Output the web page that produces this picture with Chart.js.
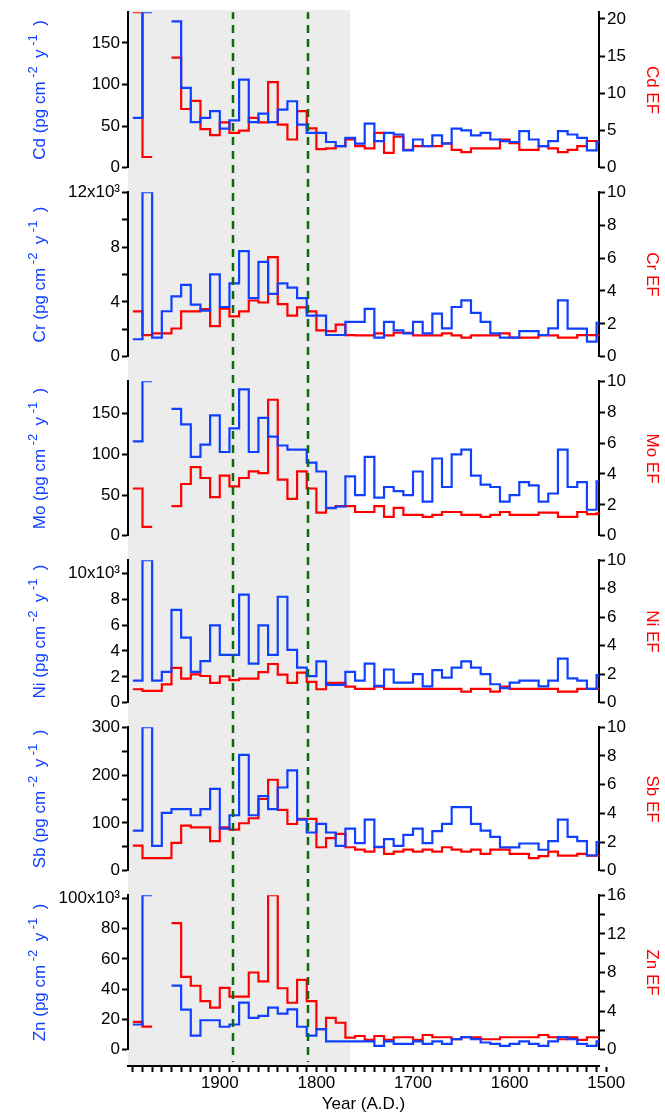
<!DOCTYPE html>
<html>
<head>
<meta charset="utf-8">
<script src="https://cdn.jsdelivr.net/npm/chart.js@4.4.0/dist/chart.umd.min.js"></script>
<style>
  html, body { margin: 0; padding: 0; background: #fff; }
  #wrap { position: relative; width: 665px; height: 1115px; }
  #wrap canvas { position: absolute; left: 0; }
</style>
</head>
<body>
<div id="wrap"></div>
<script>
// ---- data: one value per decade, decade bins running back from 1990 ----
const DECADES = [1990, 1980, 1970, 1960, 1950, 1940, 1930, 1920, 1910, 1900,
                 1890, 1880, 1870, 1860, 1850, 1840, 1830, 1820, 1810, 1800,
                 1790, 1780, 1770, 1760, 1750, 1740, 1730, 1720, 1710, 1700,
                 1690, 1680, 1670, 1660, 1650, 1640, 1630, 1620, 1610, 1600,
                 1590, 1580, 1570, 1560, 1550, 1540, 1530, 1520, 1510];
const BIN_YEARS = 10;

const CD_FLUX = [60, 187, null, null, 176, 96, 55, 60, 68, 47,
                 57, 106, 55, 65, 55, 70, 80, 52, 42, 42,
                 31, 26, 36, 29, 53, 32, 42, 40, 21, 34,
                 26, 39, 29, 47, 45, 39, 42, 34, 32, 31,
                 44, 34, 26, 32, 44, 40, 36, 21, 31];
const CD_EF = [20.9, 1.45, null, null, 14.8, 7.9, 9.0, 5.2, 4.4, 6.1,
               4.7, 5.0, 6.7, 6.1, 11.5, 5.8, 3.8, 7.6, 5.3, 2.5,
               2.6, 2.9, 3.8, 2.9, 2.6, 4.7, 2.0, 4.2, 2.4, 2.9,
               2.9, 2.9, 3.3, 2.4, 2.1, 2.6, 2.6, 2.6, 3.8, 3.3,
               2.4, 2.4, 2.9, 2.6, 2.1, 2.4, 2.9, 3.6, 3.5];

const CR_FLUX = [1280, 12000, 1400, 3320, 4400, 5240, 3800, 3370, 6010, 3630,
                 5360, 7710, 4280, 6920, 4590, 5360, 5050, 4280, 3000, 3000,
                 1590, 1590, 2550, 2550, 3490, 1400, 2550, 1920, 1710, 2550,
                 1710, 3150, 2070, 3630, 4110, 3200, 2550, 1710, 1400, 1400,
                 1870, 1870, 1590, 2070, 4110, 2050, 2050, 1110, 2480];
const CR_EF = [2.76, 1.32, 1.42, 1.42, 1.72, 2.76, 2.76, 2.90, 1.86, 2.92,
               2.46, 2.76, 3.42, 3.30, 6.06, 3.20, 2.50, 3.00, 2.76, 1.60,
               1.56, 1.96, 1.32, 1.30, 1.30, 1.42, 1.30, 1.46, 1.46, 1.30,
               1.30, 1.30, 1.42, 1.30, 1.16, 1.30, 1.30, 1.30, 1.42, 1.16,
               1.16, 1.16, 1.30, 1.30, 1.16, 1.16, 1.32, 1.32, 1.32];

const MO_FLUX = [116, 190, null, null, 156, 137, 97, 112, 148, 103,
                 132, 180, 103, 145, 122, 111, 106, 106, 90, 79,
                 34, 36, 73, 50, 97, 47, 60, 55, 50, 79,
                 42, 95, 60, 100, 106, 74, 63, 60, 42, 50,
                 66, 62, 42, 52, 106, 60, 66, 32, 67];
const MO_EF = [3.06, 0.58, null, null, 1.92, 3.35, 4.44, 3.74, 2.50, 3.89,
               3.20, 3.74, 4.17, 4.06, 8.80, 3.63, 2.39, 4.17, 3.06, 1.50,
               1.81, 1.92, 1.92, 1.54, 1.54, 1.92, 1.22, 1.81, 1.35, 1.35,
               1.22, 1.35, 1.54, 1.54, 1.35, 1.35, 1.22, 1.35, 1.54, 1.35,
               1.35, 1.35, 1.50, 1.50, 1.22, 1.22, 1.54, 1.40, 1.45];

const NI_FLUX = [1710, 11000, 1710, 2390, 7170, 5030, 2390, 3220, 5980, 3700,
                 3700, 8350, 3020, 5980, 3700, 8180, 4080, 2720, 2060, 3190,
                 1380, 1380, 2390, 1710, 3020, 1310, 2570, 1560, 1560, 2210,
                 1260, 2520, 1940, 2720, 3190, 2720, 2210, 1430, 1130, 1560,
                 1710, 1710, 1260, 1710, 3400, 1890, 1710, 1080, 2140];
const NI_EF = [0.95, 0.84, 0.84, 1.29, 2.45, 1.70, 2.00, 1.88, 1.40, 1.86,
               1.59, 1.70, 1.70, 2.15, 2.72, 1.97, 1.40, 2.11, 1.47, 0.95,
               1.40, 1.40, 1.13, 0.97, 0.97, 1.13, 0.97, 0.97, 0.97, 0.97,
               0.97, 0.97, 0.97, 0.97, 0.79, 0.97, 0.97, 0.79, 1.13, 0.97,
               0.97, 0.97, 0.97, 0.97, 0.79, 0.79, 0.97, 0.97, 0.97];

const SB_FLUX = [84, 300, 52, 121, 129, 129, 116, 129, 171, 88,
                 116, 242, 116, 156, 129, 174, 210, 107, 80, 98,
                 80, 52, 88, 58, 107, 50, 66, 52, 75, 88,
                 58, 83, 98, 133, 133, 98, 84, 71, 49, 49,
                 57, 57, 44, 62, 107, 71, 62, 32, 60];
const SB_EF = [1.76, 0.88, 0.88, 0.88, 1.94, 3.15, 3.03, 3.03, 2.06, 3.03,
               2.87, 3.31, 3.66, 5.00, 6.34, 4.24, 3.26, 3.61, 3.61, 1.64,
               2.27, 2.57, 1.64, 1.48, 1.34, 1.64, 1.18, 1.34, 1.48, 1.34,
               1.48, 1.34, 1.64, 1.48, 1.34, 1.48, 1.18, 1.48, 1.48, 1.18,
               1.18, 0.88, 1.02, 1.34, 1.06, 1.06, 1.18, 1.06, 1.06];

const ZN_FLUX = [16700, 102000, null, null, 42300, 26500, 9400, 19500, 19500, 15200,
                 16700, 31100, 21100, 22400, 27800, 23900, 26700, 15200, 9400, 13700,
                 5500, 5500, 5500, 5500, 5500, 2600, 5500, 3900, 3900, 5500,
                 3900, 5500, 3900, 7000, 8300, 7000, 4800, 3900, 2600, 3900,
                 5500, 3900, 2600, 5500, 8300, 7000, 3900, 2600, 5500];
const ZN_EF = [2.90, 2.39, null, null, 13.1, 7.55, 6.63, 5.04, 4.36, 6.40,
               5.51, 5.51, 8.00, 7.08, 16.0, 6.37, 4.87, 7.24, 5.04, 2.14,
               3.31, 2.80, 1.27, 1.43, 1.02, 1.43, 1.02, 1.30, 1.30, 1.02,
               1.53, 1.30, 1.30, 1.09, 1.30, 1.30, 1.09, 1.09, 1.30, 1.30,
               1.30, 1.30, 1.53, 1.30, 1.09, 1.30, 1.02, 1.30, 1.30];

// ---- axes: ranges and tick labels ----
const YEAR_RANGE = [1507.5, 1995];
const YEAR_TICKS_LABELED = [1900, 1800, 1700, 1600, 1500];
const SHADED_UNTIL = 1765;           // grey band: present back to this year
const EVENT_YEARS = [1886, 1809];    // dashed green markers

const CD_FLUX_TICKS = [0, 50, 100, 150];
const CD_FLUX_LABELS = ['0', '50', '100', '150'];
const CD_EF_TICKS = [0, 5, 10, 15, 20];
const CD_EF_LABELS = ['0', '5', '10', '15', '20'];
const CR_FLUX_TICKS = [0, 2000, 4000, 6000, 8000, 10000, 12000];
const CR_FLUX_LABELS = ['0', '', '4', '', '8', '', '12x10³'];
const MO_FLUX_TICKS = [0, 50, 100, 150];
const MO_FLUX_LABELS = ['0', '50', '100', '150'];
const NI_FLUX_TICKS = [0, 2000, 4000, 6000, 8000, 10000];
const NI_FLUX_LABELS = ['0', '2', '4', '6', '8', '10x10³'];
const SB_FLUX_TICKS = [0, 50, 100, 150, 200, 250, 300];
const SB_FLUX_LABELS = ['0', '', '100', '', '200', '', '300'];
const ZN_FLUX_TICKS = [0, 20000, 40000, 60000, 80000, 100000];
const ZN_FLUX_LABELS = ['0', '20', '40', '60', '80', '100x10³'];
const EF10_TICKS = [0, 2, 4, 6, 8, 10];
const EF10_LABELS = ['0', '2', '4', '6', '8', '10'];
const ZN_EF_TICKS = [0, 2, 4, 6, 8, 10, 12, 14, 16];
const ZN_EF_LABELS = ['0', '', '4', '', '8', '', '12', '', '16'];

// ---- style ----
const BLUE = '#1040ff';
const RED = '#ff0000';
const GREEN = '#0b6a0b';
const GREY = '#ececec';
const FAMILY = "'Liberation Sans', Arial, Helvetica, sans-serif";
const FONT = { family: FAMILY, size: 17 };
const SUP_SIZE = 13;
const W = 665;
const LEFT_W = 128, RIGHT_W = 66;
const FLUX_TITLE_X = 40;
const DASH_TOP = 11;

Chart.defaults.font.family = FAMILY;
Chart.defaults.color = '#000';

const PANELS = [
  { el: 'Cd', flux: CD_FLUX, ef: CD_EF, fluxMax: 187, efMax: 20.9,
    fT: CD_FLUX_TICKS, fL: CD_FLUX_LABELS, eT: CD_EF_TICKS, eL: CD_EF_LABELS,
    top: 0, bottom: 180, areaTop: 11, areaBottom: 170 },
  { el: 'Cr', flux: CR_FLUX, ef: CR_EF, fluxMax: 12000, efMax: 10,
    fT: CR_FLUX_TICKS, fL: CR_FLUX_LABELS, eT: EF10_TICKS, eL: EF10_LABELS,
    top: 180, bottom: 369, areaTop: 191, areaBottom: 358 },
  { el: 'Mo', flux: MO_FLUX, ef: MO_EF, fluxMax: 190, efMax: 10,
    fT: MO_FLUX_TICKS, fL: MO_FLUX_LABELS, eT: EF10_TICKS, eL: EF10_LABELS,
    top: 369, bottom: 548, areaTop: 380, areaBottom: 537 },
  { el: 'Ni', flux: NI_FLUX, ef: NI_EF, fluxMax: 11000, efMax: 10,
    fT: NI_FLUX_TICKS, fL: NI_FLUX_LABELS, eT: EF10_TICKS, eL: EF10_LABELS,
    top: 548, bottom: 715, areaTop: 559, areaBottom: 705 },
  { el: 'Sb', flux: SB_FLUX, ef: SB_EF, fluxMax: 300, efMax: 10,
    fT: SB_FLUX_TICKS, fL: SB_FLUX_LABELS, eT: EF10_TICKS, eL: EF10_LABELS,
    top: 715, bottom: 883, areaTop: 726, areaBottom: 872 },
  { el: 'Zn', flux: ZN_FLUX, ef: ZN_EF, fluxMax: 102000, efMax: 16,
    fT: ZN_FLUX_TICKS, fL: ZN_FLUX_LABELS, eT: ZN_EF_TICKS, eL: ZN_EF_LABELS,
    top: 883, bottom: 1062, areaTop: 895, areaBottom: 1052 },
];
const AXIS_BOX = { top: 1062, bottom: 1115, lineY: 1066 };

/** decade values -> step outline: flat across each bin, vertical at bin edges */
function stepPoints(values) {
  const pts = [];
  values.forEach((v, i) => {
    const start = DECADES[i];
    if (v === null) { pts.push({ x: start, y: null }); return; }
    pts.push({ x: start, y: v }, { x: start - BIN_YEARS, y: v });
  });
  return pts;
}

/** grey band + dashed event lines, drawn per canvas so they run continuously */
const decorPlugin = {
  id: 'decor',
  beforeDraw(chart, args, o) {
    const { ctx, chartArea, scales: { x } } = chart;
    const x0 = x.getPixelForValue(YEAR_RANGE[1]);
    const x1 = x.getPixelForValue(SHADED_UNTIL);
    const y0 = o.fromArea ? chartArea.top - 2 : 0;
    const y1 = o.toArea ? chartArea.bottom : chart.height;
    ctx.save();
    ctx.fillStyle = GREY;
    ctx.fillRect(x0, y0, x1 - x0, y1 - y0);
    ctx.restore();
  },
  afterDatasetsDraw(chart, args, o) {
    const { ctx, chartArea, scales: { x } } = chart;
    const y0 = o.fromArea ? chartArea.top : 0;
    const y1 = o.toArea ? chartArea.bottom - 4 : chart.height;
    ctx.save();
    ctx.strokeStyle = GREEN;
    ctx.lineWidth = 2.5;
    ctx.setLineDash([8, 6]);
    ctx.lineDashOffset = o.absTop + y0 - DASH_TOP;
    EVENT_YEARS.forEach(yr => {
      const px = Math.round(x.getPixelForValue(yr));
      ctx.beginPath();
      ctx.moveTo(px, y0);
      ctx.lineTo(px, y1);
      ctx.stroke();
    });
    ctx.restore();
  }
};

/** left axis title with raised exponents: "Cd (pg cm-2 y-1)" */
const fluxTitlePlugin = {
  id: 'fluxTitle',
  afterDraw(chart, args, o) {
    const { ctx, chartArea } = chart;
    const parts = [
      { t: o.el + ' (pg cm', sup: false },
      { t: ' -2 ', sup: true },
      { t: ' y', sup: false },
      { t: ' -1 ', sup: true },
      { t: ' )', sup: false },
    ];
    const fontOf = p => (p.sup ? SUP_SIZE : FONT.size) + 'px ' + FAMILY;
    ctx.save();
    let total = 0;
    parts.forEach(p => { ctx.font = fontOf(p); p.w = ctx.measureText(p.t).width; total += p.w; });
    ctx.translate(FLUX_TITLE_X, (chartArea.top + chartArea.bottom) / 2);
    ctx.rotate(-Math.PI / 2);
    ctx.fillStyle = BLUE;
    ctx.textBaseline = 'middle';
    ctx.textAlign = 'left';
    let cx = -total / 2;
    parts.forEach(p => {
      ctx.font = fontOf(p);
      ctx.fillText(p.t, cx, p.sup ? -7 : 0);
      cx += p.w;
    });
    ctx.restore();
  }
};

function makeCanvas(top, height) {
  const c = document.createElement('canvas');
  c.width = W; c.height = height;
  c.style.top = top + 'px';
  c.style.width = W + 'px'; c.style.height = height + 'px';
  document.getElementById('wrap').appendChild(c);
  return c;
}

function yearScale(show) {
  return { type: 'linear', min: YEAR_RANGE[0], max: YEAR_RANGE[1], reverse: true, display: show };
}

function valueAxis(side, max, ticks, labels, title, color) {
  return {
    type: 'linear', position: side, min: 0, max: max,
    afterFit: s => { s.width = side === 'left' ? LEFT_W : RIGHT_W; },
    afterBuildTicks: s => { s.ticks = ticks.map(v => ({ value: v })); },
    grid: { drawOnChartArea: false, tickLength: 6, tickWidth: 2, tickColor: '#000' },
    border: { color: '#000', width: 2 },
    ticks: {
      color: '#000', font: FONT, padding: 2, autoSkip: false,
      callback: v => labels[ticks.indexOf(v)] ?? ''
    },
    title: { display: !!title, text: title || '', color: color, font: FONT, padding: { top: 3, bottom: 0 } }
  };
}

PANELS.forEach((p, i) => {
  const canvas = makeCanvas(p.top, p.bottom - p.top);
  new Chart(canvas, {
    type: 'line',
    data: {
      datasets: [
        { data: stepPoints(p.flux), yAxisID: 'yL', borderColor: BLUE, borderWidth: 2.2 },
        { data: stepPoints(p.ef), yAxisID: 'yR', borderColor: RED, borderWidth: 2.2 },
      ]
    },
    options: {
      responsive: false, animation: false, events: [], devicePixelRatio: 1,
      elements: { point: { radius: 0 }, line: { tension: 0, fill: false } },
      layout: { padding: { top: p.areaTop - p.top, bottom: p.bottom - p.areaBottom, left: 0, right: 0 } },
      plugins: {
        legend: { display: false }, tooltip: { enabled: false },
        decor: { absTop: p.top, fromArea: i === 0, toArea: false },
        fluxTitle: { el: p.el }
      },
      scales: {
        x: yearScale(false),
        yL: valueAxis('left', p.fluxMax, p.fT, p.fL, null, BLUE),
        yR: valueAxis('right', p.efMax, p.eT, p.eL, p.el + ' EF', RED),
      }
    },
    plugins: [decorPlugin, fluxTitlePlugin]
  });
});

// shared year axis under the last panel
const axisCanvas = makeCanvas(AXIS_BOX.top, AXIS_BOX.bottom - AXIS_BOX.top);
new Chart(axisCanvas, {
  type: 'line',
  data: { datasets: [] },
  options: {
    responsive: false, animation: false, events: [], devicePixelRatio: 1,
    layout: { padding: { top: 0, bottom: 0, left: LEFT_W, right: RIGHT_W } },
    plugins: {
      legend: { display: false }, tooltip: { enabled: false },
      decor: { absTop: AXIS_BOX.top, fromArea: false, toArea: true }
    },
    scales: {
      x: {
        ...yearScale(true),
        position: 'bottom',
        afterFit: s => { s.height = AXIS_BOX.bottom - AXIS_BOX.lineY; },
        afterBuildTicks: s => {
          const t = [];
          for (let yr = 1990; yr >= YEAR_RANGE[0] - 10; yr -= BIN_YEARS) t.push({ value: yr });
          s.ticks = t;
        },
        grid: { drawOnChartArea: false, tickLength: 6, tickWidth: 2, tickColor: '#000' },
        border: { color: '#000', width: 2 },
        ticks: {
          color: '#000', font: FONT, padding: 1, autoSkip: false, maxRotation: 0,
          callback: v => YEAR_TICKS_LABELED.includes(v) ? String(v) : ''
        },
        title: { display: true, text: 'Year (A.D.)', color: '#000', font: FONT, padding: { top: 0, bottom: 0 } }
      },
      y: { display: false, min: 0, max: 1 }
    }
  },
  plugins: [decorPlugin]
});
</script>
</body>
</html>
